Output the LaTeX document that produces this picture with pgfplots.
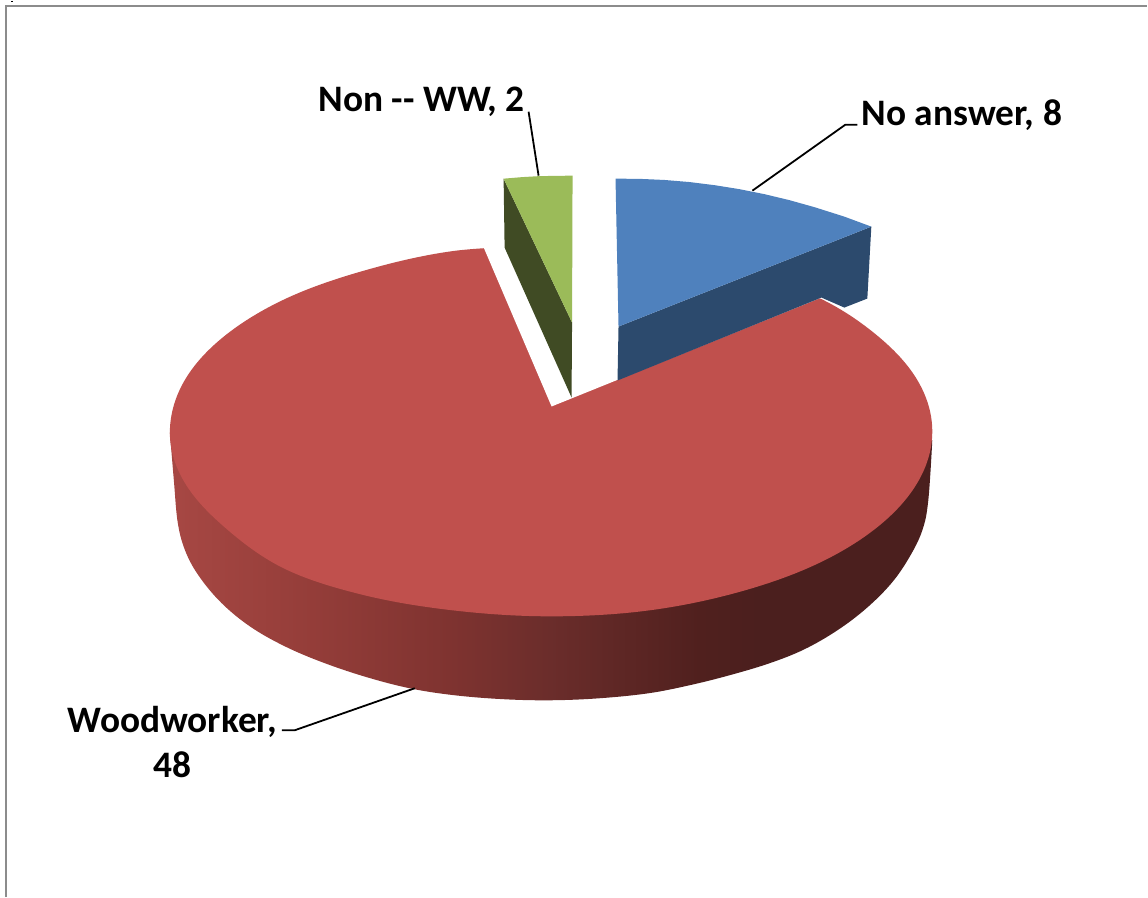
\documentclass[border=0pt]{standalone}
\usepackage{pgfplots}
\usepackage{fontspec}
\setmainfont{Carlito}
\pgfplotsset{compat=1.18}
\definecolor{bluetop}{HTML}{4F81BD}
\definecolor{blueside}{HTML}{2C4A6D}
\definecolor{redtop}{HTML}{C0504D}
\definecolor{greentop}{HTML}{9BBB59}
\definecolor{greenside}{HTML}{404B24}
\definecolor{framegray}{HTML}{8C8C8C}
% side of the big slice: 25bp..75bp is the left..right of its bounding box
\pgfdeclarehorizontalshading{redside}{100bp}{
  color(0bp)=(rgb,255:red,166;green,71;blue,67);
  color(25.5bp)=(rgb,255:red,166;green,71;blue,67);
  color(33.5bp)=(rgb,255:red,150;green,62;blue,58);
  color(43.3bp)=(rgb,255:red,127;green,51;blue,48);
  color(49.9bp)=(rgb,255:red,107;green,45;blue,43);
  color(59.7bp)=(rgb,255:red,80;green,32;blue,30);
  color(63.7bp)=(rgb,255:red,75;green,31;blue,30);
  color(100bp)=(rgb,255:red,75;green,31;blue,30)}
\tikzset{lab/.style={font=\fontsize{18.7}{22.5}\selectfont\bfseries, text=black, inner sep=0pt}}
\begin{document}
\begin{tikzpicture}
\begin{axis}[
    width=574pt, height=448.5pt,
    scale only axis,
    xmin=0, xmax=1148,
    ymin=0, ymax=897,
    y dir=reverse,
    axis lines=none,
    clip=false,
]
% page corners, keeps the bounding box at full size
\addplot[draw=none] coordinates {(0,0) (1148,897)};

% frame
\addplot[framegray, line width=0.9pt] coordinates {(6,897) (6,5) (1148,5)};
\addplot[black, line width=0.8pt] coordinates {(12,0) (12,1.5)};

% Woodworker, 48: side
\addplot[shade, shading=redside, draw=none, smooth, tension=0.61] coordinates {
    (170,432) (174,480) (178,523) (186,552) (200,577) (222,603) (250,626)
    (283,645) (320,661) (364,676) (410,688) (455,695) (505,699) (552,700)
    (600,698) (649,693) (690,685) (730,675) (770,663) (805,649) (838,630)
    (867,608) (892,583) (910,557) (923,530) (929,500) (933,440)
};
% Woodworker, 48: top, starts and ends inside the gap
\addplot[fill=redtop, draw=none, smooth, tension=0.61] coordinates {
    (551,245) (650,251) (742,271) (821,298) (882,338.5) (920,383) (933,431)
    (920,479) (882,523.5) (821,562) (742,591) (650,610) (551.5,616)
    (453,610) (361,594) (282,567) (221,523.5) (183,479) (170,432)
    (183,383) (221,338.5) (282,300) (361,271) (453,250.5) (551,245)
};
% the gap that the two exploded slices leave
\addplot[fill=white, draw=none] coordinates {
    (552,406) (467,207) (900,265.5)
};
% No answer, 8
\addplot[fill=blueside, draw=none] coordinates {
    (619,326) (872,226) (868,298) (845,307) (822,297) (618,380)
};
\addplot[fill=bluetop, draw=none] coordinates {
    (616,178) (640,178.2) (665,179.3) (690,181.4) (715,184.5) (740,188.5)
    (765,193.5) (790,199.5) (815,206.5) (845,216) (872,226) (619,326)
};
% Non -- WW, 2
\addplot[fill=greenside, draw=none] coordinates {
    (504,178) (572.5,322) (572,397) (505,247)
};
\addplot[fill=greentop, draw=none] coordinates {
    (504,178) (522,176.5) (539,175.5) (556,175.2) (573,175) (572.5,322)
};

% leader lines
\addplot[black, line width=0.9pt] coordinates {(753,190) (846,124) (858,124)};
\addplot[black, line width=0.9pt] coordinates {(529,111) (539,175)};
\addplot[black, line width=0.9pt] coordinates {(415,688) (295,730) (282,730)};

\node[lab] at (axis cs:962.5,114.5) {No answer, 8};
\node[lab] at (axis cs:422,101) {Non -{}- WW, 2};
\node[lab, align=center] at (axis cs:172.5,742) {Woodworker,\\48};
\end{axis}
\end{tikzpicture}
\end{document}
